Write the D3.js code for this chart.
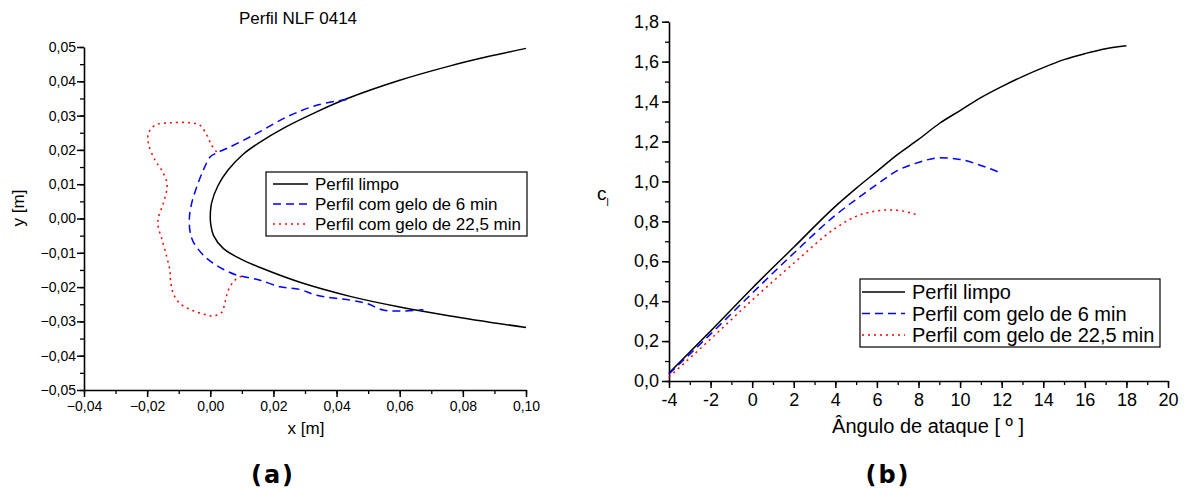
<!DOCTYPE html>
<html><head><meta charset="utf-8">
<script src="https://cdn.jsdelivr.net/npm/d3@7"></script>
<style>
body{margin:0;background:#fff;}
svg text{font-family:"Liberation Sans",Arial,sans-serif;fill:#000;}
</style></head>
<body>
<svg id="c" width="1188" height="488"></svg>
<script>
// ---------- Data: (a) airfoil profiles ----------
const cleanX = [0.100,0.088,0.076,0.060,0.0432,0.0337,0.0231,0.0158,0.0105,0.0057,0.0025,0.0004,0.0,0.0002,0.001,0.0041,0.0094,0.0158,0.0284,0.0443,0.060,0.076,0.100];
const cleanY = [0.0496,0.0472,0.0445,0.0403,0.0349,0.0311,0.0263,0.0223,0.0188,0.0142,0.0097,0.0045,0.0,-0.002,-0.0049,-0.0087,-0.0117,-0.0143,-0.0186,-0.0227,-0.0258,-0.0284,-0.0318];
const ice6X = [0.0432,0.0337,0.0242,0.0147,0.0094,0.0052,0.002,0.0,-0.0022,-0.0043,-0.0059,-0.0066,-0.0064,-0.0054,-0.0027,0.0004,0.0041,0.0084,0.0126,0.0158,0.0221,0.0284,0.0337,0.0443,0.0496,0.0548,0.0601,0.0675];
const ice6Y = [0.0347,0.033,0.0296,0.0248,0.0223,0.0204,0.0191,0.018,0.0141,0.0092,0.0044,0.0005,-0.0039,-0.0068,-0.0102,-0.0127,-0.0148,-0.0165,-0.0173,-0.018,-0.0199,-0.0207,-0.0224,-0.0238,-0.0248,-0.0267,-0.027,-0.0266];
const ice22X = [0.002,0.0004,-0.0011,-0.0033,-0.0064,-0.0128,-0.0175,-0.0196,-0.0196,-0.0175,-0.0154,-0.0138,-0.0138,-0.0149,-0.0165,-0.0165,-0.0154,-0.0138,-0.0128,-0.0126,-0.0117,-0.0096,-0.0059,-0.0017,0.001,0.0036,0.0047,0.0057,0.0078,0.0099];
const ice22Y = [0.0194,0.0214,0.0243,0.0272,0.0279,0.0279,0.0272,0.0248,0.0219,0.017,0.0141,0.0107,0.0083,0.0044,0.0,-0.0024,-0.0058,-0.0112,-0.0151,-0.018,-0.0219,-0.0248,-0.0267,-0.028,-0.0284,-0.0274,-0.0243,-0.0209,-0.018,-0.0168];
const aXTicks = [-0.04,-0.02,0.00,0.02,0.04,0.06,0.08,0.10];
const aYTicks = [-0.05,-0.04,-0.03,-0.02,-0.01,0.00,0.01,0.02,0.03,0.04,0.05];

// ---------- Data: (b) lift coefficient ----------
const alphaClean = [-4,-2,0,2,4,5,6,7,8,9,10,11,12,13,14,15,16,17,18];
const clClean    = [0.04,0.25,0.465,0.67,0.875,0.965,1.05,1.135,1.21,1.29,1.355,1.42,1.475,1.525,1.57,1.61,1.64,1.665,1.68];
const alphaIce6  = [-4,-2,0,2,4,5,6,7,8,9,10,11,12];
const clIce6     = [0.035,0.235,0.44,0.64,0.83,0.91,0.985,1.055,1.095,1.118,1.11,1.08,1.04];
const alphaIce22 = [-4,-2,0,2,4,5,6,6.5,7,8];
const clIce22    = [0.02,0.21,0.405,0.59,0.765,0.825,0.852,0.857,0.855,0.83];
const bXTicks = [-4,-2,0,2,4,6,8,10,12,14,16,18,20];
const bYTicks = [0.0,0.2,0.4,0.6,0.8,1.0,1.2,1.4,1.6,1.8];

const legendLabels = ["Perfil limpo","Perfil com gelo de 6 min","Perfil com gelo de 22,5 min"];
const colors = ["#000000","#0000ff","#ff0000"];
const dashes = [null,"8,5","2,4"];

const svg = d3.select("#c");
const comma = s => s.replace(".", ",");

function zip(xs, ys){ return xs.map((x,i)=>[x, ys[i]]); }

function drawAxes(g, x, y, o){
  const yMinor = d3.range(o.yDom[0], o.yDom[1]+1e-9, o.yMinorStep);
  const xMinor = d3.range(o.xDom[0], o.xDom[1]+1e-9, o.xMinorStep);
  g.append("g").attr("transform",`translate(${x.range()[0]},0)`)
    .call(d3.axisLeft(y).tickValues(yMinor).tickSize(4).tickFormat("").tickSizeOuter(0))
    .call(s=>s.select(".domain").remove())
    .selectAll("line").attr("stroke-width",1.3);
  g.append("g").attr("transform",`translate(0,${y.range()[0]})`)
    .call(d3.axisBottom(x).tickValues(xMinor).tickSize(4).tickFormat("").tickSizeOuter(0))
    .call(s=>s.select(".domain").remove())
    .selectAll("line").attr("stroke-width",1.3);
  const ya = g.append("g").attr("transform",`translate(${x.range()[0]},0)`)
    .call(d3.axisLeft(y).tickValues(o.yTicks).tickSize(7).tickPadding(o.yPad).tickSizeOuter(0).tickFormat(o.yFmt));
  const xa = g.append("g").attr("transform",`translate(0,${y.range()[0]})`)
    .call(d3.axisBottom(x).tickValues(o.xTicks).tickSize(7).tickPadding(o.xPad).tickSizeOuter(0).tickFormat(o.xFmt));
  [ya,xa].forEach(a=>{
    a.select(".domain").attr("stroke-width",1.6);
    a.selectAll("line").attr("stroke-width",1.5);
    a.selectAll("text").style("font-size",o.fs+"px").attr("fill","#000");
  });
}

function drawLegend(g, o){
  g.append("rect").attr("x",o.x).attr("y",o.y).attr("width",o.w).attr("height",o.h)
    .attr("fill","#fff").attr("stroke","#000").attr("stroke-width",1.2);
  legendLabels.forEach((lab,i)=>{
    const cy = o.y + o.first + i*o.step;
    g.append("line").attr("x1",o.lx1).attr("x2",o.lx2).attr("y1",cy).attr("y2",cy)
      .attr("stroke",colors[i]).attr("stroke-width",1.6).attr("stroke-dasharray",dashes[i]);
    g.append("text").attr("x",o.tx).attr("y",cy).attr("dy","0.35em")
      .style("font-size",o.fs+"px").text(lab);
  });
}

// ---------- Panel (a) ----------
{
  const x = d3.scaleLinear().domain([-0.04,0.10]).range([84,526]);
  const y = d3.scaleLinear().domain([-0.05,0.05]).range([390,47]);
  const g = svg.append("g");
  drawAxes(g, x, y, {yDom:[-0.05,0.05], xDom:[-0.04,0.10], yMinorStep:0.005, xMinorStep:0.01,
    yTicks:aYTicks, xTicks:aXTicks, yFmt:d=>comma(d3.format(".2f")(d)), xFmt:d=>comma(d3.format(".2f")(d)),
    yPad:1, xPad:4, fs:14});
  const line = d3.line().x(d=>x(d[0])).y(d=>y(d[1])).curve(d3.curveCatmullRom.alpha(0.5));
  const series = [zip(cleanX,cleanY), zip(ice6X,ice6Y), zip(ice22X,ice22Y)];
  series.forEach((s,i)=>{
    g.append("path").attr("d",line(s)).attr("fill","none").attr("stroke",colors[i])
      .attr("stroke-width",1.5).attr("stroke-dasharray",dashes[i]);
  });
  drawLegend(g,{x:266,y:172,w:261,h:64,first:12,step:20,lx1:273,lx2:308,tx:315,fs:17});
  g.append("text").attr("x",298).attr("y",24).attr("text-anchor","middle").style("font-size","17px").text("Perfil NLF 0414");
  g.append("text").attr("x",306).attr("y",434).attr("text-anchor","middle").style("font-size","17px").text("x [m]");
  g.append("text").attr("transform","translate(24,208) rotate(-90)").attr("text-anchor","middle").style("font-size","17px").text("y [m]");
  g.append("text").attr("x",273).attr("y",483).attr("text-anchor","middle")
    .style("font-family","'DejaVu Sans',Verdana,sans-serif").style("font-weight","bold").style("font-size","24px")
    .style("letter-spacing","2px").text("(a)");
}

// ---------- Panel (b) ----------
{
  const x = d3.scaleLinear().domain([-4,20]).range([669,1168]);
  const y = d3.scaleLinear().domain([0,1.8]).range([381,21.7]);
  const g = svg.append("g");
  drawAxes(g, x, y, {yDom:[0,1.8], xDom:[-4,20], yMinorStep:0.1, xMinorStep:1,
    yTicks:bYTicks, xTicks:bXTicks, yFmt:d=>comma(d3.format(".1f")(d)), xFmt:d=>String(d),
    yPad:3, xPad:5, fs:18});
  const line = d3.line().x(d=>x(d[0])).y(d=>y(d[1])).curve(d3.curveMonotoneX);
  const series = [zip(alphaClean,clClean), zip(alphaIce6,clIce6), zip(alphaIce22,clIce22)];
  series.forEach((s,i)=>{
    g.append("path").attr("d",line(s)).attr("fill","none").attr("stroke",colors[i])
      .attr("stroke-width",1.5).attr("stroke-dasharray",dashes[i]);
  });
  drawLegend(g,{x:860,y:279,w:300,h:68,first:13,step:21.5,lx1:862,lx2:905,tx:912,fs:20});
  g.append("text").attr("x",928).attr("y",433).attr("text-anchor","middle").style("font-size","20px").text("Ângulo de ataque [ º ]");
  const cl = g.append("text").attr("x",597).attr("y",200).style("font-size","19px");
  cl.append("tspan").text("c");
  cl.append("tspan").attr("dy",6).style("font-size","10px").text("l");
  g.append("text").attr("x",888).attr("y",483).attr("text-anchor","middle")
    .style("font-family","'DejaVu Sans',Verdana,sans-serif").style("font-weight","bold").style("font-size","24px")
    .style("letter-spacing","2px").text("(b)");
}
</script>
</body></html>
